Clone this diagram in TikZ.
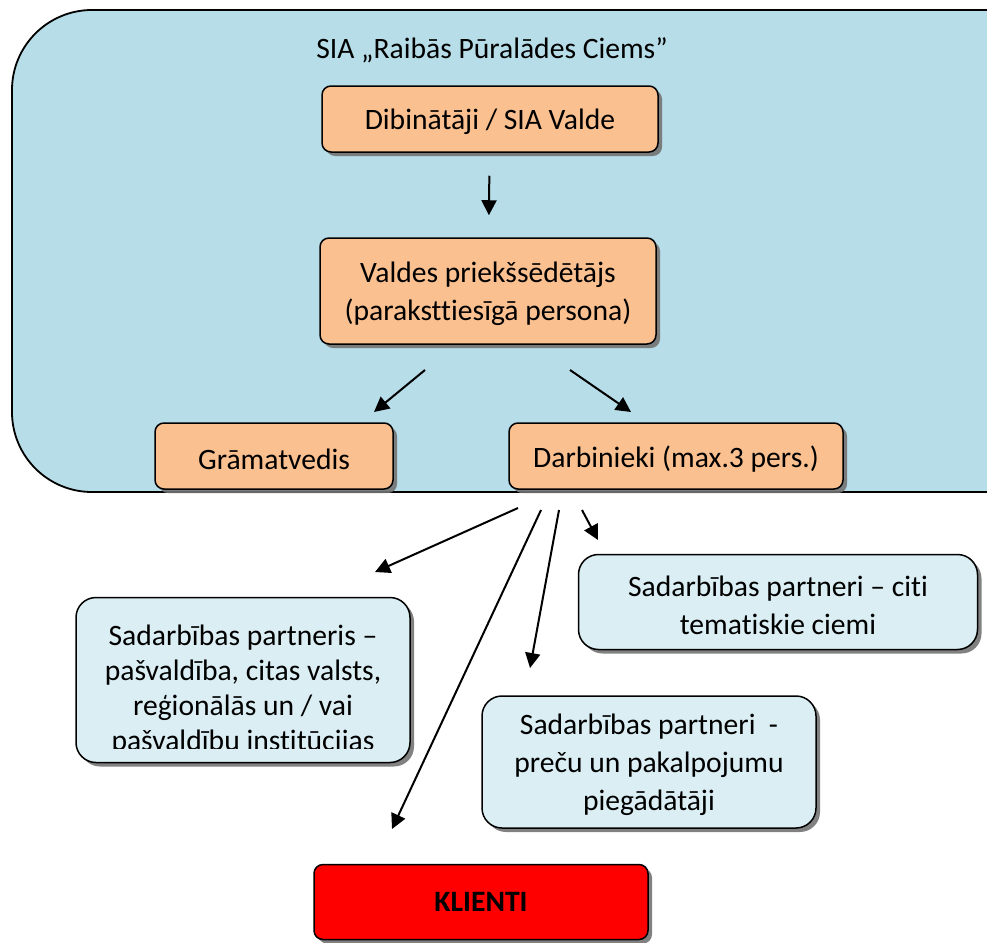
\documentclass[tikz,border=0pt]{standalone}
\usepackage{fontspec}
\setmainfont{Carlito}[Ligatures=NoCommon]
\usetikzlibrary{arrows.meta,shadows}
\definecolor{siablue}{HTML}{B7DDE8}
\definecolor{orfill}{HTML}{FAC090}
\definecolor{ptfill}{HTML}{DAEEF3}
\definecolor{klred}{HTML}{FF0000}
\newcommand\topstrut{\rule{0pt}{27pt}}
\tikzset{
  frame/.style = {draw=black, line width=1.8pt, fill=siablue,
                  rounded corners=80pt},
  boxbase/.style = {rectangle, rounded corners=9pt, draw=black, line width=1.5pt,
                  inner sep=0pt, align=flush center,
                  font=\fontsize{29.6}{38}\selectfont,
                  drop shadow={shadow xshift=4pt, shadow yshift=-4pt,
                               fill=black!55, opacity=.9}},
  org/.style   = {boxbase, fill=orfill, execute at begin node=\topstrut},
  ptn/.style   = {org, fill=ptfill, rounded corners=20pt},
  kl/.style    = {boxbase, fill=klred,
                  font=\fontsize{29.6}{38}\selectfont\bfseries},
  txt/.style   = {inner sep=0pt, align=center, font=\fontsize{29.6}{35}\selectfont},
  arr/.style   = {-{Triangle[length=15pt,width=15pt]}, line width=2pt},
}

\begin{document}
\begin{tikzpicture}[x=1pt,y=-1pt]
  \useasboundingbox (0,0) rectangle (987,942);
  \clip (0,0) rectangle (987,942);
  % company frame, runs past the right edge
  \draw[frame] (12,10) rectangle (1100,492);
  \node[txt, anchor=base] (title) at (492,59) {SIA „Raibās Pūralādes Ciems”};

  \node[org, minimum width=336pt, minimum height=66pt, text width=330pt] (dib) at (490,119)
    {Dibinātāji / SIA Valde};
  \node[org, minimum width=336pt, minimum height=106pt, text width=330pt] (valdes) at (488,291)
    {Valdes priekšsēdētājs\\(paraksttiesīgā persona)};
  \node[org, minimum width=238pt, minimum height=66pt, text width=232pt] (gram) at (274,456)
    {Grāmatvedis};
  \node[org, minimum width=334pt, minimum height=66pt, text width=328pt] (darb) at (676,456)
    {Darbinieki (max.3 pers.)};

  \node[ptn, minimum width=334pt, minimum height=165pt] (pasv) at (243,680) {};
  \begin{scope}
    \clip (80,600) rectangle (406,748);
    \node[txt, anchor=north] (pasvtxt) at (243,625)
      {Sadarbības partneris –\\pašvaldība, citas valsts,\\reģionālās un / vai\\pašvaldību institūcijas};
  \end{scope}
  \node[ptn, minimum width=399pt, minimum height=95pt, text width=393pt] (citi) at (778,602)
    {Sadarbības partneri – citi\\tematiskie ciemi};
  \node[ptn, minimum width=334pt, minimum height=132pt, text width=328pt] (pieg) at (649,762)
    {Sadarbības partneri \ -\\preču un pakalpojumu\\piegādātāji};
  \node[kl, minimum width=334pt, minimum height=75pt] (klienti) at (481,902)
    {KLIENTI};

  % free arrow ends
  \coordinate (v1) at (425,370);  \coordinate (g1) at (374,412);
  \coordinate (v2) at (570,370);  \coordinate (d1) at (631,412);
  \coordinate (d2) at (518,508);  \coordinate (p1) at (375,572);
  \coordinate (d3) at (541,510);  \coordinate (k1) at (392,829);
  \coordinate (d4) at (559,510);  \coordinate (s1) at (530,668);
  \coordinate (d5) at (582,510);  \coordinate (c1) at (598,540);

  \draw[arr, shorten <=23pt, shorten >=22pt] (dib) -- (valdes);
  \draw[arr] (v1) -- (g1);
  \draw[arr] (v2) -- (d1);
  \draw[arr] (d2) -- (p1);
  \draw[arr] (d3) -- (k1);
  \draw[arr] (d4) -- (s1);
  \draw[arr] (d5) -- (c1);
\end{tikzpicture}
\end{document}
